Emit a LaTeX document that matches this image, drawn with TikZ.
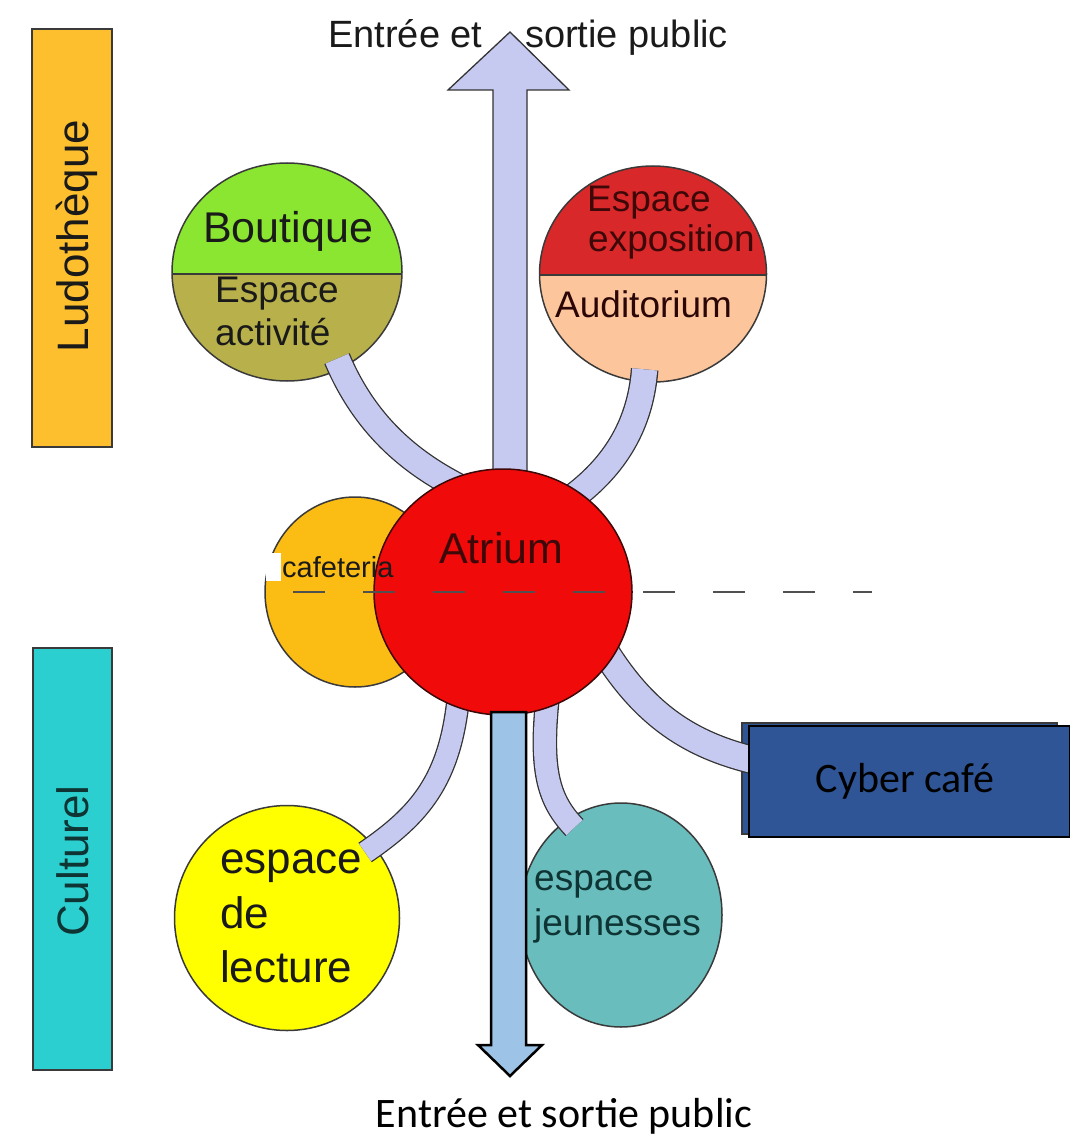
\documentclass[tikz,border=0pt]{standalone}
\usepackage{fontspec}
\setmainfont{Liberation Sans}
\newfontfamily\calibri{Carlito}
\usetikzlibrary{shapes.geometric,calc}
\definecolor{cLudo}{HTML}{FDBF2D}
\definecolor{cCult}{HTML}{2CCFCF}
\definecolor{cBoutA}{HTML}{8AE630}
\definecolor{cBoutB}{HTML}{B8B04A}
\definecolor{cExpoA}{HTML}{D8282A}
\definecolor{cExpoB}{HTML}{FCC59C}
\definecolor{cAtrium}{HTML}{F00A0A}
\definecolor{cCafe}{HTML}{FBBC14}
\definecolor{cLect}{HTML}{FFFF00}
\definecolor{cJeu}{HTML}{6ABDBD}
\definecolor{cLav}{HTML}{C7CAF0}
\definecolor{cCyber}{HTML}{2F5597}
\definecolor{cDown}{HTML}{9DC3E6}
\definecolor{cOutl}{HTML}{3A3A3A}
\definecolor{cTube}{HTML}{333333}
\definecolor{cMaroon}{HTML}{3E0808}
\definecolor{cTeal}{HTML}{0E3434}
\definecolor{cTxt}{HTML}{1A1A1A}
\definecolor{cDash}{HTML}{505050}
\newcommand\fsz[1]{\fontsize{#1}{#1}\selectfont}
\begin{document}
\begin{tikzpicture}[x=1pt,y=-1pt,
  room/.style={ellipse, inner sep=0pt, draw=cOutl, line width=1.5pt},
  bar/.style={rectangle, inner sep=0pt, draw=cOutl, line width=2pt},
  tube/.style={draw=cTube, line width=1.3pt, double=cLav, double distance=#1},
  lbl/.style={inner sep=0pt, anchor=base west},
  halves/.style n args={3}{path picture={
     \fill[#1] (path picture bounding box.north west) rectangle ([yshift=#3]path picture bounding box.east);
     \fill[#2] ([yshift=#3]path picture bounding box.west) rectangle (path picture bounding box.south east);
     \draw[cOutl, line width=1.5pt] ([yshift=#3]path picture bounding box.west) -- ([yshift=#3]path picture bounding box.east);}}
]
\useasboundingbox (0,0) rectangle (1069,1139);
\fill[white] (0,0) rectangle (1069,1139);

% side bars
\node[bar, fill=cLudo, minimum width=80pt, minimum height=418pt] (ludo) at (72,238) {};
\node[bar, fill=cCult, minimum width=79pt, minimum height=422pt] (cult) at (72.5,859) {};
\node[inner sep=0pt, anchor=base, rotate=90, text=cTxt] (ludotxt) at (88,236) {\fsz{44}Ludothèque};
\node[inner sep=0pt, anchor=base, rotate=90, text=cTeal] (culttxt) at (88,861) {\fsz{44}Culturel};

% rooms (outer)
\node[room, minimum width=230pt, minimum height=218pt, halves={cBoutA}{cBoutB}{-2pt}] (bout) at (287,272) {};
\node[room, minimum width=227pt, minimum height=216pt, halves={cExpoA}{cExpoB}{-1pt}] (expo) at (653,274) {};
\node[room, fill=cLect, minimum width=225pt, minimum height=225pt] (lect) at (287,918) {};
\node[room, fill=cJeu, minimum width=202pt, minimum height=224pt] (jeu) at (621,915) {};

% cyber cafe box edge behind
\node[rectangle, inner sep=0pt, fill=cCyber, draw=cOutl, line width=2pt, minimum width=315pt, minimum height=111pt] (cyberback) at (899.5,778.5) {};

% top entrance arrow
\coordinate (uptip) at (510,32);
\filldraw[fill=cLav, draw=cTube, line width=1.3pt] (493,520) -- (493,90) -- (448,90) -- (uptip) -- (569,90) -- (527,90) -- (527,520) -- cycle;

% anchors for atrium and cyber cafe
\path node[ellipse, inner sep=0pt, minimum width=258pt, minimum height=246pt] (atrium) at (503,592) {};
\path node[rectangle, inner sep=0pt, minimum width=321pt, minimum height=111pt] (cyber) at (909.5,781.5) {};

% connectors (tubes)
\draw[tube=25pt] ($(atrium.center)!0.92!(atrium.113)$) .. controls (410,462) and (365,425) .. ($(bout.center)!0.9!(bout.-60)$);
\draw[tube=25pt] ($(atrium.center)!0.92!(atrium.54)$) .. controls (610,470) and (640,430) .. ($(expo.center)!0.88!(expo.-95)$);
\draw[tube=26pt] ($(atrium.center)!0.92!(atrium.-30)$) .. controls (645,715) and (690,745) .. ([xshift=6pt,yshift=21pt]cyber.west);
\draw[tube=21pt] ($(atrium.center)!0.92!(atrium.-113)$) .. controls (450,780) and (420,815) .. ($(lect.center)!0.9!(lect.40)$);
\draw[tube=22pt] ($(atrium.center)!0.92!(atrium.-67)$) .. controls (540,770) and (548,800) .. ($(jeu.center)!0.9!(jeu.118)$);

% cafeteria and atrium
\node[room, fill=cCafe, minimum width=180pt, minimum height=190pt] (cafe) at (355,592) {};
\node[room, fill=cAtrium, draw=cMaroon, minimum width=258pt, minimum height=246pt] (atriumdisc) at (503,592) {};

% dashed line
\coordinate (dashL) at (293,592);
\coordinate (dashR) at (872,592);
\draw[cDash, line width=2pt, dash pattern=on 32pt off 38pt] (dashL) -- (dashR);

% white patch
\fill[white] (266,553) rectangle (281,581);

% texts
\node[lbl, text=cTxt] (tBout) at (203,243) {\fsz{43}Boutique};
\node[lbl, text=cTxt] (tAct1) at (215,302) {\fsz{37}Espace};
\node[lbl, text=cTxt] (tAct2) at (215,345) {\fsz{37}activité};
\node[lbl, text=cMaroon] (tExp1) at (587,212) {\fsz{37}Espace};
\node[lbl, text=cMaroon] (tExp2) at (588,252) {\fsz{37}exposition};
\node[lbl, text=cMaroon!70!black] (tAud) at (555,317) {\fsz{37}Auditorium};
\node[lbl, text=cMaroon] (tAtr) at (439,563) {\fsz{43}Atrium};
\node[lbl, text=cTxt] (tCafe) at (282,577) {\fsz{29}cafeteria};
\node[lbl, text=cTxt] (tLe1) at (220,873) {\fsz{44}espace};
\node[lbl, text=cTxt] (tLe2) at (220,928) {\fsz{44}de};
\node[lbl, text=cTxt] (tLe3) at (220,982) {\fsz{44}lecture};
\node[lbl, text=cTeal] (tJe1) at (534,890) {\fsz{37}espace};
\node[lbl, text=cTeal] (tJe2) at (534,935) {\fsz{37}jeunesses};
\node[lbl, text=cTxt] (tTop1) at (328,48) {\fsz{38}Entrée et};
\node[lbl, text=cTxt] (tTop2) at (525,48) {\fsz{38}sortie public};

% down exit arrow
\filldraw[fill=cDown, draw=black, line width=2.5pt] (491,712) -- (526,712) -- (526,1045) -- (542,1045) -- (510,1076) -- (478,1045) -- (491,1045) -- cycle;

% cyber cafe box
\node[rectangle, inner sep=0pt, fill=cCyber, draw=black, line width=2pt, minimum width=321pt, minimum height=111pt, font=\calibri\fsz{42}] (cyberbox) at (909.5,781.5) {\hspace*{-9pt}Cyber café};

% bottom label
\node[inner sep=0pt, anchor=base, font=\calibri\fsz{42}] (tBottom) at (564,1127) {Entrée et sortie public};
\end{tikzpicture}
\end{document}
